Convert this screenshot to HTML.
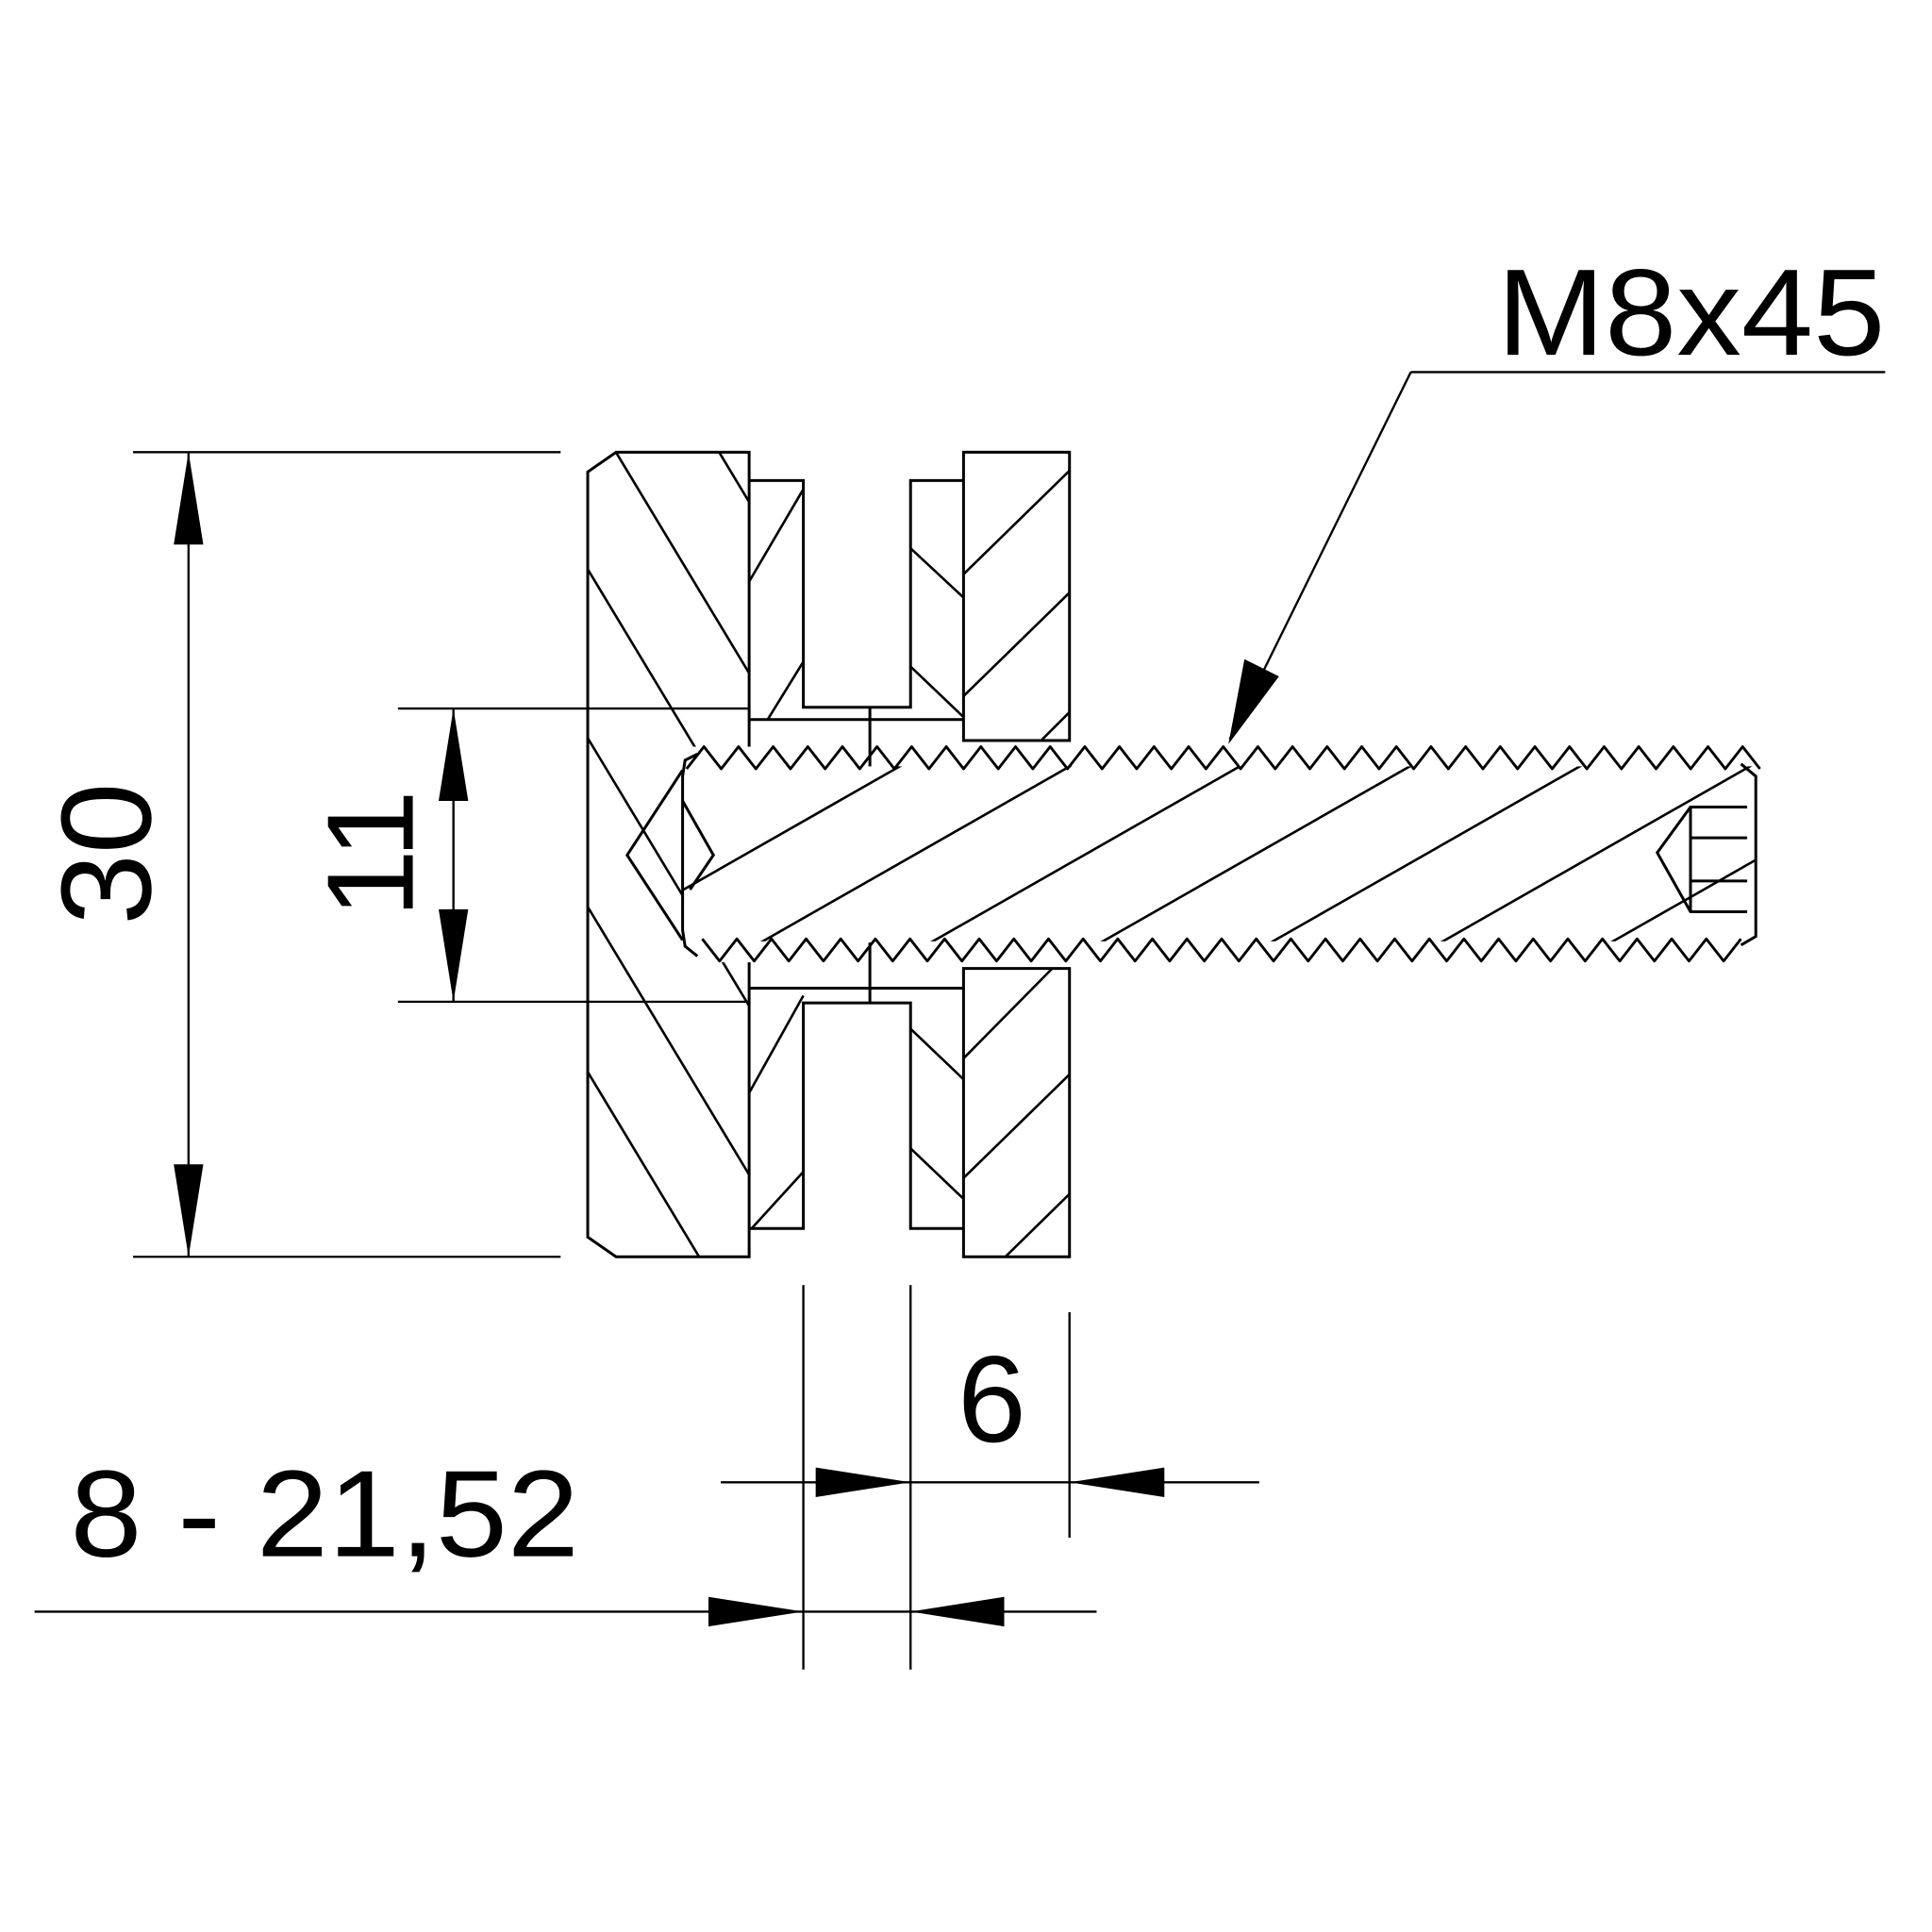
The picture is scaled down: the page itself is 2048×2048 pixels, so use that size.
<!DOCTYPE html>
<html><head><meta charset="utf-8"><style>
html,body{margin:0;padding:0;background:#fff;}
svg{display:block;}
text{font-family:"Liberation Sans",sans-serif;fill:#000;}
</style></head><body>
<svg width="2048" height="2048" viewBox="0 0 1568 1568" xmlns="http://www.w3.org/2000/svg">
<defs>
<clipPath id="cL"><polygon points="500,367 608,367 608,1020 500,1020 477,1004 477,383"/></clipPath>
<clipPath id="cB"><rect x="554" y="622" width="871" height="142"/></clipPath>
</defs>
<g fill="none" stroke="#000" stroke-width="2.3">
<g clip-path="url(#cL)" stroke-width="2">
<line x1="477" y1="190" x2="800" y2="726"/>
<line x1="477" y1="329" x2="800" y2="865"/>
<line x1="477" y1="462" x2="800" y2="998"/>
<line x1="477" y1="599" x2="800" y2="1135"/>
<line x1="477" y1="736" x2="800" y2="1272"/>
<line x1="477" y1="870" x2="800" y2="1406"/>
</g>
<polygon points="500,367 608,367 608,1020 500,1020 477,1004 477,383"/>
<rect x="554" y="606" width="871" height="175" fill="#fff" stroke="none"/>
<polyline points="608,390 652,390 652,574 739,574 739,390 782,390"/>
<line x1="608" y1="584" x2="782" y2="584"/>
<line x1="706" y1="574" x2="706" y2="622"/>
<rect x="782" y="367" width="86" height="234"/>
<g stroke-width="2">
<line x1="608" y1="472" x2="652" y2="397"/>
<line x1="623" y1="584" x2="652" y2="537"/>
<line x1="739" y1="445" x2="782" y2="485"/>
<line x1="739" y1="541" x2="782" y2="582"/>
<line x1="782" y1="466" x2="868" y2="382"/>
<line x1="782" y1="565" x2="868" y2="481"/>
<line x1="845" y1="601" x2="868" y2="578"/>
</g>
<polyline points="608,997 652,997 652,814 739,814 739,997 782,997"/>
<line x1="608" y1="802" x2="782" y2="802"/>
<line x1="706" y1="765" x2="706" y2="814"/>
<rect x="782" y="786" width="86" height="234"/>
<g stroke-width="2">
<line x1="608" y1="887" x2="652" y2="808"/>
<line x1="610" y1="997" x2="652" y2="951"/>
<line x1="739" y1="835" x2="782" y2="876"/>
<line x1="739" y1="932" x2="782" y2="973"/>
<line x1="782" y1="859" x2="854" y2="786"/>
<line x1="782" y1="956" x2="868" y2="872"/>
<line x1="816" y1="1020" x2="868" y2="969"/>
</g>
<!-- threads -->
<path stroke-width="2.2" stroke-linejoin="round" d="M557.25,624 l14.05,-18 l14.05,18 l14.05,-18 l14.05,18 l14.05,-18 l14.05,18 l14.05,-18 l14.05,18 l14.05,-18 l14.05,18 l14.05,-18 l14.05,18 l14.05,-18 l14.05,18 l14.05,-18 l14.05,18 l14.05,-18 l14.05,18 l14.05,-18 l14.05,18 l14.05,-18 l14.05,18 l14.05,-18 l14.05,18 l14.05,-18 l14.05,18 l14.05,-18 l14.05,18 l14.05,-18 l14.05,18 l14.05,-18 l14.05,18 l14.05,-18 l14.05,18 l14.05,-18 l14.05,18 l14.05,-18 l14.05,18 l14.05,-18 l14.05,18 l14.05,-18 l14.05,18 l14.05,-18 l14.05,18 l14.05,-18 l14.05,18 l14.05,-18 l14.05,18 l14.05,-18 l14.05,18 l14.05,-18 l14.05,18 l14.05,-18 l14.05,18 l14.05,-18 l14.05,18 l14.05,-18 l14.05,18 l14.05,-18 l14.05,18 l14.05,-18 l14.05,18"/>
<path stroke-width="2.2" stroke-linejoin="round" d="M569.95,762 l14.05,18 l14.05,-18 l14.05,18 l14.05,-18 l14.05,18 l14.05,-18 l14.05,18 l14.05,-18 l14.05,18 l14.05,-18 l14.05,18 l14.05,-18 l14.05,18 l14.05,-18 l14.05,18 l14.05,-18 l14.05,18 l14.05,-18 l14.05,18 l14.05,-18 l14.05,18 l14.05,-18 l14.05,18 l14.05,-18 l14.05,18 l14.05,-18 l14.05,18 l14.05,-18 l14.05,18 l14.05,-18 l14.05,18 l14.05,-18 l14.05,18 l14.05,-18 l14.05,18 l14.05,-18 l14.05,18 l14.05,-18 l14.05,18 l14.05,-18 l14.05,18 l14.05,-18 l14.05,18 l14.05,-18 l14.05,18 l14.05,-18 l14.05,18 l14.05,-18 l14.05,18 l14.05,-18 l14.05,18 l14.05,-18 l14.05,18 l14.05,-18 l14.05,18 l14.05,-18 l14.05,18 l14.05,-18 l14.05,18 l14.05,-18"/>
<g clip-path="url(#cB)" stroke-width="2">
<line x1="474" y1="768" x2="774" y2="597"/>
<line x1="612" y1="768" x2="912" y2="597"/>
<line x1="750" y1="768" x2="1050" y2="597"/>
<line x1="888" y1="768" x2="1188" y2="597"/>
<line x1="1026" y1="768" x2="1326" y2="597"/>
<line x1="1164" y1="768" x2="1464" y2="597"/>
<line x1="1302" y1="768" x2="1602" y2="597"/>
</g>
<polyline points="566,612 556,617 554,630 554,755 556,768 566,776"/>
<polyline points="1413,620 1425,630 1425,760 1413,767"/>
<polyline points="554,625 509,694 554,763"/>
<polyline points="554,650 579,694 560,722"/>
<polyline points="1418,655 1372,655 1345,692 1372,740 1418,740"/>
<line x1="1372" y1="655" x2="1372" y2="740"/>
<line x1="1372" y1="680" x2="1418" y2="680"/>
<line x1="1372" y1="715" x2="1418" y2="715"/>
<g stroke-width="1.8">
<line x1="108" y1="367" x2="455" y2="367"/>
<line x1="108" y1="1020" x2="455" y2="1020"/>
<line x1="153" y1="367" x2="153" y2="1020"/>
<line x1="323" y1="575" x2="608" y2="575"/>
<line x1="323" y1="813" x2="608" y2="813"/>
<line x1="368" y1="575" x2="368" y2="813"/>
<line x1="1145" y1="302" x2="1530" y2="302"/>
<line x1="1145" y1="302" x2="998" y2="600"/>
<line x1="585" y1="1203" x2="1022" y2="1203"/>
<line x1="652" y1="1043" x2="652" y2="1355"/>
<line x1="739" y1="1043" x2="739" y2="1355"/>
<line x1="868" y1="1065" x2="868" y2="1248"/>
<line x1="28" y1="1308" x2="890" y2="1308"/>
</g>
</g>
<g fill="#000">
<polygon points="153,367 141,442 165,442"/>
<polygon points="153,1020 141,945 165,945"/>
<polygon points="368,575 356,650 380,650"/>
<polygon points="368,813 356,738 380,738"/>
<polygon points="997,604 1010,535 1038,549"/>
<polygon points="739,1203 662,1191 662,1215"/>
<polygon points="868,1203 945,1191 945,1215"/>
<polygon points="652,1308 575,1296 575,1320"/>
<polygon points="739,1308 815,1296 815,1320"/>
</g>
<text x="1215" y="288" font-size="100" textLength="315" lengthAdjust="spacingAndGlyphs">M8x45</text>
<text x="805" y="1170" font-size="100" text-anchor="middle">6</text>
<text x="57" y="1263" font-size="100" textLength="413" lengthAdjust="spacingAndGlyphs">8 - 21,52</text>
<text transform="translate(122,693) rotate(-90)" font-size="104" text-anchor="middle">30</text>
<text transform="translate(335,693) rotate(-90)" font-size="100" text-anchor="middle">11</text>
</svg>
</body></html>
